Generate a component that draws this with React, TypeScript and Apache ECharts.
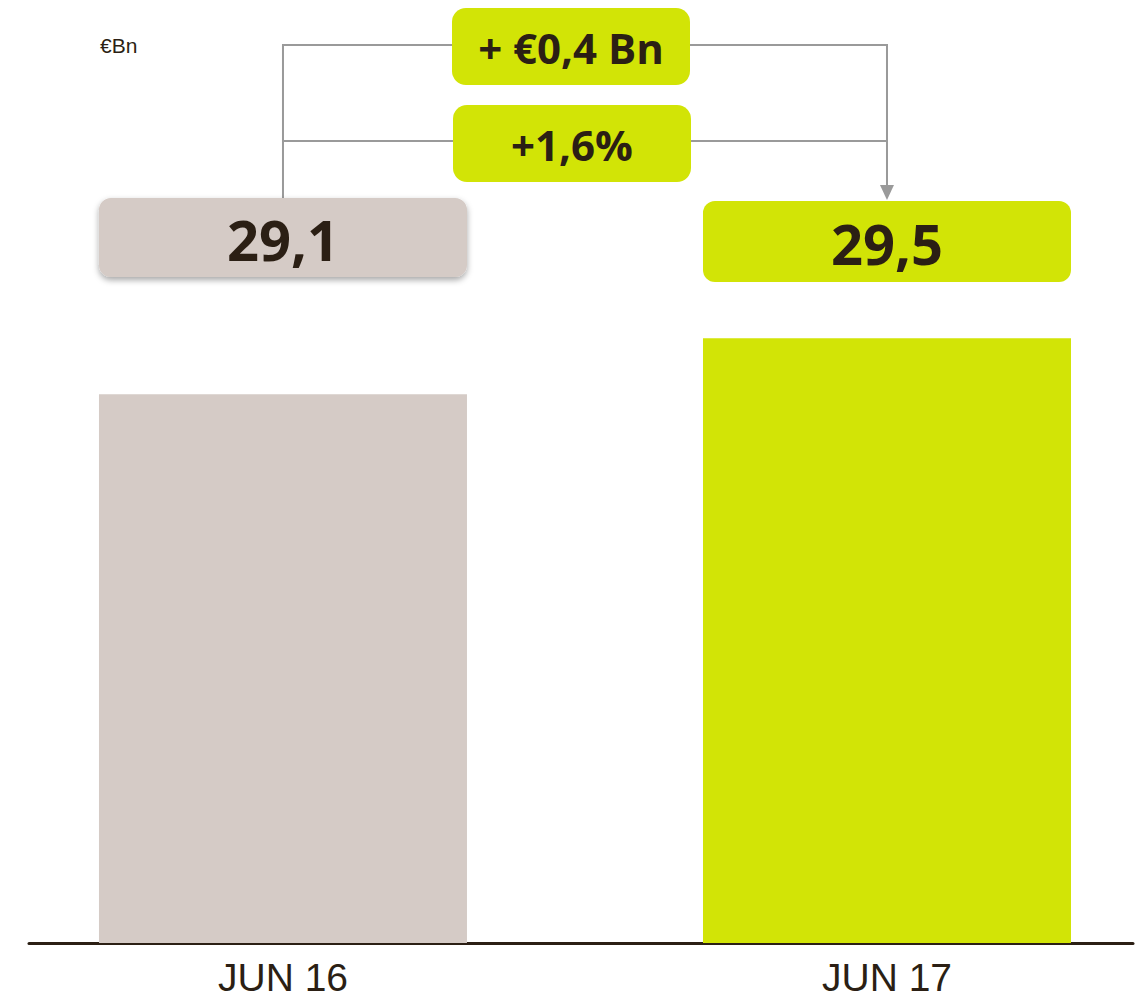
import React, { useEffect, useRef } from "react";
import * as echarts from "echarts";

const categories = ["JUN 16", "JUN 17"];
const values = [29.1, 29.5];
const valueLabels = ["29,1", "29,5"];
const deltaLabels = ["+ €0,4 Bn", "+1,6%"];
const unitLabel = "€Bn";
const barColors = ["#d5cbc6", "#d2e406"];

const DARK = "#2b1f14";
const GREEN = "#d2e406";
const LINE = "#9a9a9a";
const FONT = "'Open Sans', 'Noto Sans', sans-serif";
const AXIS_FONT = "'Liberation Sans', Arial, sans-serif";

export default function App() {
  const ref = useRef<HTMLDivElement>(null);
  useEffect(() => {
    if (!ref.current) return;
    const chart = echarts.init(ref.current, null, { renderer: "svg" });
    const positions = categories.map((_, i) => i);
    const option: any = {
      animation: false,
      grid: { left: 29, right: 12, top: 60, bottom: 58, containLabel: false },
      xAxis: {
        type: "value",
        min: -0.4205,
        max: 1.4073,
        axisLine: { show: true, onZero: false, lineStyle: { color: DARK, width: 3 } },
        axisTick: { show: false },
        splitLine: { show: false },
        axisLabel: {
          customValues: positions,
          formatter: (v: number) => categories[Math.round(v)] ?? "",
          color: DARK,
          fontSize: 39,
          lineHeight: 39,
          fontFamily: AXIS_FONT,
          fontWeight: 400,
          margin: 15,
        },
      },
      yAxis: {
        type: "value",
        min: 25.18,
        max: 31.487,
        show: false,
        splitLine: { show: false },
      },
      series: [
        {
          type: "bar",
          clip: true,
          barWidth: 368,
          data: values.map((v, i) => ({ value: [positions[i], v], itemStyle: { color: barColors[i] } })),
        },
      ],
    };
    chart.setOption(option);

    const x0 = chart.convertToPixel({ xAxisIndex: 0 }, positions[0]) as number;
    const x1 = chart.convertToPixel({ xAxisIndex: 0 }, positions[1]) as number;
    const half = 184;
    const boxTop = [198, 201];
    const boxH = [79, 81];
    const dBoxLeft = 452;
    const dBoxW = 238;
    const dBoxTop = [8, 105];
    const dBoxH = 77;
    const lineY = [45, 141];

    const graphic: any[] = [
      {
        type: "text",
        left: 100,
        top: 35,
        style: { text: unitLabel, fill: DARK, font: `400 21px ${AXIS_FONT}` },
        z: 10,
      },
      {
        type: "polyline",
        shape: { points: [[x0, 198], [x0, lineY[0]], [x1, lineY[0]], [x1, 188]] },
        style: { stroke: LINE, lineWidth: 2, fill: null },
        z: 5,
      },
      {
        type: "line",
        shape: { x1: x0, y1: lineY[1], x2: x1, y2: lineY[1] },
        style: { stroke: LINE, lineWidth: 2 },
        z: 5,
      },
      {
        type: "polygon",
        shape: { points: [[x1 - 7, 185], [x1 + 7, 185], [x1, 200]] },
        style: { fill: LINE },
        z: 5,
      },
    ];

    [x0, x1].forEach((cx, i) => {
      graphic.push({
        type: "rect",
        shape: { x: cx - half, y: boxTop[i], width: half * 2, height: boxH[i], r: 12 },
        style: i === 0
          ? { fill: barColors[0], shadowBlur: 6, shadowOffsetY: 3, shadowColor: "rgba(0,0,0,0.35)" }
          : { fill: GREEN },
        z: 20,
      });
      graphic.push({
        type: "text",
        x: cx,
        y: boxTop[i] + boxH[i] / 2 + 1,
        style: {
          text: valueLabels[i],
          fill: DARK,
          font: `700 56px ${FONT}`,
          textAlign: "center",
          textVerticalAlign: "middle",
        },
        z: 21,
      });
    });

    deltaLabels.forEach((t, i) => {
      graphic.push({
        type: "rect",
        shape: { x: dBoxLeft + i, y: dBoxTop[i], width: dBoxW, height: dBoxH, r: 14 },
        style: { fill: GREEN },
        z: 20,
      });
      graphic.push({
        type: "text",
        x: dBoxLeft + i + dBoxW / 2,
        y: dBoxTop[i] + dBoxH / 2 + 1,
        style: {
          text: t,
          fill: DARK,
          font: `700 42px ${FONT}`,
          textAlign: "center",
          textVerticalAlign: "middle",
        },
        z: 21,
      });
    });

    chart.setOption({ graphic });
    return () => chart.dispose();
  }, []);
  return <div ref={ref} style={{ width: 1145, height: 1001, position: "absolute", left: 0, top: 0 }} />;
}
